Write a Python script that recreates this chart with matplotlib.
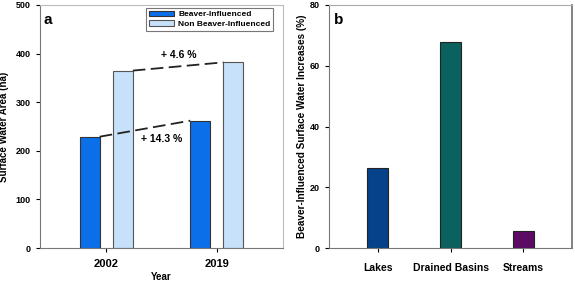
import numpy as np
import matplotlib.pyplot as plt

plt.rcParams['font.family'] = ['Liberation Sans', 'DejaVu Sans']

# panel a
years = ['2002', '2019']
beaver = [229, 262]
non_beaver = [365, 382]
pct_labels = ['+ 14.3 %', '+ 4.6 %']

# panel b
cats = ['Lakes', 'Drained Basins', 'Streams']
increases = [26.2, 67.9, 5.7]
cat_colors = ['#05428a', '#0a615e', '#5c0a63']

fig = plt.figure(figsize=(5.75, 2.82), dpi=100)
W, H = 575, 282
axa = fig.add_axes([40/W, 1-248/H, (283-40)/W, (248-5)/H])
axb = fig.add_axes([329/W, 1-248/H, (572-329)/W, (248-5)/H])

x = np.arange(1, len(years)+1)
w = 0.18
off = 0.15
axa.bar(x-off, beaver, w, color='#0a6fe8', edgecolor='#333333', lw=0.8,
        label='Beaver-Influenced')
axa.bar(x+off, non_beaver, w, color='#c8e1fa', edgecolor='#555555', lw=0.8,
        label='Non Beaver-Influenced')
# dashed change lines
axa.plot([x[0]-off+w/2, x[1]-off-w/2], beaver, '--', color='#222222',
         lw=1.3, dashes=(7, 3))
axa.plot([x[0]+off+w/2, x[1]+off-w/2], non_beaver, '--', color='#222222',
         lw=1.3, dashes=(7, 3))
axa.text(1.5, 224, pct_labels[0], ha='center', va='center', fontsize=7.5,
         fontweight='bold')
axa.text(1.66, 397, pct_labels[1], ha='center', va='center', fontsize=7.5,
         fontweight='bold')
axa.set_xlim(0.4, 2.6)
axa.set_ylim(0, 500)
axa.set_xticks(x)
axa.set_xticklabels(years, fontsize=8, fontweight='bold')
axa.set_yticks(range(0, 501, 100))
axa.tick_params(axis='y', labelsize=6.5, length=3)
axa.tick_params(axis='x', length=3, pad=5)
for t in axa.get_yticklabels():
    t.set_fontweight('bold')
axa.set_xlabel('Year', fontsize=7, fontweight='bold', labelpad=2)
axa.set_ylabel('Surface Water Area (ha)', fontsize=7, fontweight='bold',
               labelpad=5)
axa.text(0.015, 0.94, 'a', transform=axa.transAxes, fontsize=11,
         fontweight='bold', va='center')
leg = axa.legend(loc='upper right', frameon=True, fancybox=False,
                 edgecolor='#555555', handlelength=3.0, handleheight=0.6,
                 borderpad=0.35, labelspacing=0.25, handletextpad=0.5,
                 borderaxespad=0, prop={'weight': 'bold', 'size': 6},
                 bbox_to_anchor=(0.96, 0.988))
leg.get_frame().set_linewidth(0.8)
for s in ['top', 'right']:
    axa.spines[s].set_color('#bbbbbb')
for s in ['left', 'bottom']:
    axa.spines[s].set_color('#777777')

xb = np.arange(1, len(cats)+1)
axb.bar(xb, increases, 0.295, color=cat_colors, edgecolor='#222222', lw=0.8)
axb.set_xlim(0.333, 3.667)
axb.set_ylim(0, 80)
axb.set_xticks(xb)
axb.set_xticklabels(cats, fontsize=7.5, fontweight='bold')
axb.set_yticks(range(0, 81, 20))
axb.tick_params(axis='y', labelsize=6.5, length=3)
axb.tick_params(axis='x', length=3, pad=8)
for t in axb.get_yticklabels():
    t.set_fontweight('bold')
axb.set_ylabel('Beaver-Influenced Surface Water Increases (%)', fontsize=7.2,
               fontweight='bold', labelpad=2)
axb.text(0.02, 0.94, 'b', transform=axb.transAxes, fontsize=11,
         fontweight='bold', va='center')
axb.spines['top'].set_color('#aaaaaa')
axb.spines['right'].set_color('#777777')
axb.spines['right'].set_linewidth(1.3)
for s in ['left', 'bottom']:
    axb.spines[s].set_color('#777777')

fig.savefig('out.png', dpi=100)
